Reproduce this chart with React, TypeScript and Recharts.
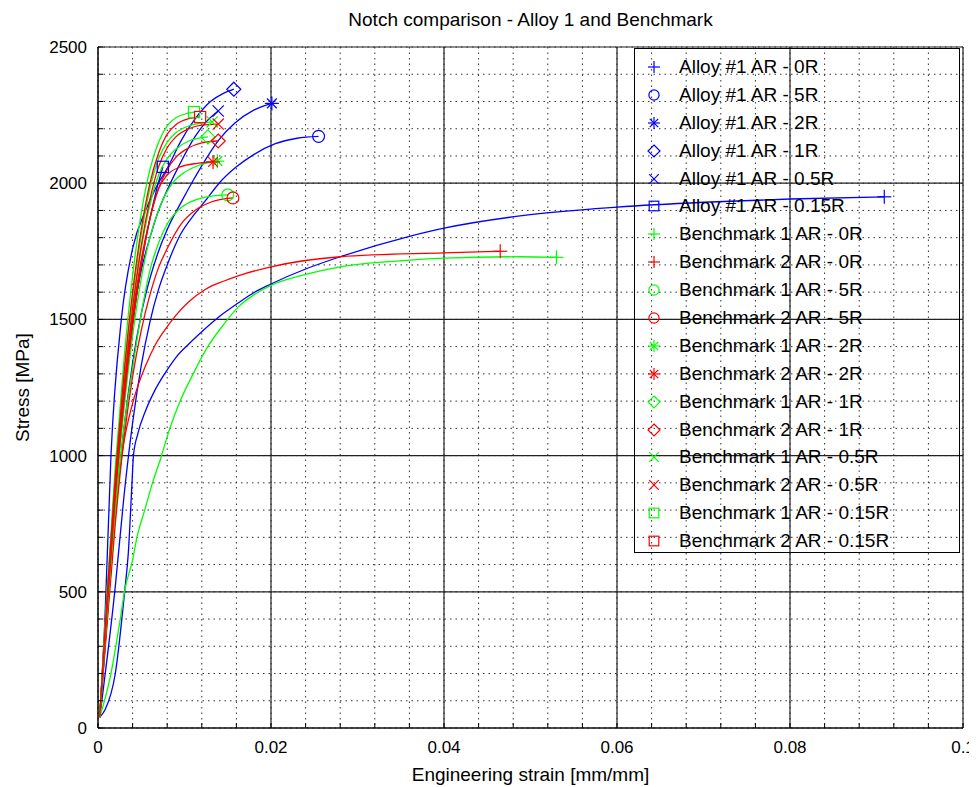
import React from 'react';
import { LineChart, Line, XAxis, YAxis, CartesianGrid, ReferenceLine } from 'recharts';

// strain [mm/mm], stress [MPa]
const alloy0R = [[0.0002, 40], [0.0008, 66], [0.002, 200], [0.0031, 507], [0.0035, 640], [0.0039, 880], [0.0041, 1000], [0.0046, 1080], [0.0055, 1165], [0.0065, 1235], [0.0077, 1300], [0.009, 1360], [0.0105, 1410], [0.012, 1455], [0.014, 1510], [0.0162, 1560], [0.018, 1598], [0.02, 1630], [0.024, 1685], [0.028, 1730], [0.036, 1805], [0.04, 1835], [0.0488, 1880], [0.06, 1912], [0.07, 1930], [0.08, 1942], [0.0909, 1950]];
const alloy5R = [[0.0002, 40], [0.002, 520], [0.003, 850], [0.004, 1120], [0.005, 1330], [0.006, 1490], [0.007, 1610], [0.008, 1700], [0.0095, 1810], [0.011, 1880], [0.0124, 1935], [0.014, 2000], [0.016, 2060], [0.018, 2105], [0.0205, 2145], [0.023, 2165], [0.0255, 2172]];
const alloy2R = [[0.0002, 40], [0.001, 380], [0.002, 780], [0.003, 1100], [0.004, 1340], [0.005, 1520], [0.006, 1650], [0.007, 1750], [0.008, 1830], [0.0097, 1935], [0.011, 2010], [0.0124, 2085], [0.014, 2160], [0.0158, 2220], [0.018, 2268], [0.0201, 2293]];
const alloy1R = [[0.0002, 40], [0.0008, 400], [0.0015, 1000], [0.0027, 1500], [0.004, 1760], [0.0055, 1900], [0.0068, 1990], [0.0081, 2060], [0.0095, 2150], [0.0112, 2235], [0.013, 2300], [0.0145, 2330], [0.0157, 2345]];
const alloy05R = [[0.0002, 40], [0.001, 450], [0.002, 900], [0.003, 1250], [0.004, 1500], [0.005, 1680], [0.006, 1800], [0.007, 1900], [0.008, 1975], [0.0093, 2060], [0.0112, 2170], [0.0125, 2225], [0.0139, 2265]];
const alloy015R = [[0.0002, 40], [0.001, 420], [0.002, 850], [0.003, 1200], [0.004, 1480], [0.005, 1700], [0.006, 1870], [0.0068, 1980], [0.0075, 2060]];
const bench1_0R = [[0.0002, 40], [0.0015, 200], [0.0025, 385], [0.0031, 507], [0.004, 617], [0.0045, 700], [0.0054, 800], [0.0063, 900], [0.0072, 985], [0.0082, 1090], [0.0095, 1200], [0.011, 1300], [0.0125, 1390], [0.0145, 1480], [0.0162, 1545], [0.018, 1590], [0.02, 1625], [0.024, 1665], [0.028, 1693], [0.034, 1713], [0.04, 1725], [0.0488, 1730], [0.053, 1728]];
const bench2_0R = [[0.0002, 40], [0.001, 400], [0.002, 800], [0.003, 1050], [0.0039, 1180], [0.0046, 1255], [0.0055, 1330], [0.0066, 1405], [0.0077, 1460], [0.009, 1515], [0.0105, 1565], [0.0124, 1610], [0.0145, 1640], [0.0162, 1660], [0.02, 1693], [0.028, 1730], [0.04, 1744], [0.0465, 1750]];
const bench1_5R = [[0.0002, 40], [0.001, 380], [0.002, 780], [0.003, 1100], [0.004, 1320], [0.005, 1520], [0.006, 1680], [0.007, 1780], [0.008, 1850], [0.0096, 1910], [0.0112, 1938], [0.013, 1952], [0.015, 1957]];
const bench2_5R = [[0.0002, 40], [0.001, 360], [0.002, 750], [0.003, 1060], [0.004, 1290], [0.005, 1460], [0.006, 1590], [0.007, 1690], [0.008, 1760], [0.0096, 1850], [0.0112, 1900], [0.013, 1930], [0.0156, 1946]];
const bench1_2R = [[0.0002, 40], [0.001, 400], [0.002, 820], [0.003, 1170], [0.004, 1440], [0.005, 1650], [0.006, 1800], [0.007, 1900], [0.0086, 2000], [0.01, 2040], [0.0116, 2065], [0.0138, 2081]];
const bench2_2R = [[0.0002, 40], [0.001, 420], [0.002, 850], [0.003, 1200], [0.004, 1480], [0.005, 1700], [0.006, 1870], [0.007, 1980], [0.008, 2030], [0.0095, 2060], [0.0115, 2073], [0.0133, 2078]];
const bench1_1R = [[0.0002, 40], [0.001, 450], [0.002, 900], [0.003, 1260], [0.004, 1540], [0.005, 1760], [0.006, 1920], [0.007, 2030], [0.008, 2090], [0.009, 2125], [0.0105, 2155], [0.0127, 2170]];
const bench2_1R = [[0.0002, 40], [0.001, 430], [0.002, 870], [0.003, 1230], [0.004, 1510], [0.005, 1720], [0.006, 1870], [0.007, 1980], [0.008, 2050], [0.009, 2095], [0.0105, 2130], [0.012, 2148], [0.0139, 2155]];
const bench1_05R = [[0.0002, 40], [0.001, 460], [0.002, 920], [0.003, 1290], [0.004, 1580], [0.005, 1810], [0.006, 1980], [0.007, 2090], [0.008, 2150], [0.009, 2185], [0.0105, 2210], [0.0132, 2225]];
const bench2_05R = [[0.0002, 40], [0.001, 440], [0.002, 890], [0.003, 1250], [0.004, 1540], [0.005, 1770], [0.006, 1940], [0.007, 2060], [0.008, 2130], [0.009, 2170], [0.0105, 2200], [0.012, 2213], [0.0139, 2217]];
const bench1_015R = [[0.0002, 40], [0.001, 480], [0.002, 960], [0.003, 1350], [0.004, 1660], [0.005, 1890], [0.006, 2050], [0.007, 2150], [0.008, 2210], [0.009, 2240], [0.0111, 2261]];
const bench2_015R = [[0.0002, 40], [0.001, 460], [0.002, 920], [0.003, 1300], [0.004, 1600], [0.005, 1830], [0.006, 2000], [0.007, 2110], [0.008, 2180], [0.009, 2215], [0.0105, 2237], [0.0118, 2243]];

const xTicks = [0, 0.004, 0.008, 0.012, 0.016, 0.02, 0.024, 0.028, 0.032, 0.036, 0.04, 0.044, 0.048, 0.052, 0.056, 0.06, 0.064, 0.068, 0.072, 0.076, 0.08, 0.084, 0.088, 0.092, 0.096, 0.1];
const xMajor = [0, 0.02, 0.04, 0.06, 0.08, 0.1];
const yTicks = [0, 100, 200, 300, 400, 500, 600, 700, 800, 900, 1000, 1100, 1200, 1300, 1400, 1500, 1600, 1700, 1800, 1900, 2000, 2100, 2200, 2300, 2400, 2500];
const yMajor = [0, 500, 1000, 1500, 2000, 2500];

const BLUE = '#0000ff';
const GREEN = '#00ff00';
const RED = '#ff0000';

const series = [
  { name: 'Alloy #1 AR - 0R', pts: alloy0R, color: BLUE, marker: 'plus' },
  { name: 'Alloy #1 AR - 5R', pts: alloy5R, color: BLUE, marker: 'circle' },
  { name: 'Alloy #1 AR - 2R', pts: alloy2R, color: BLUE, marker: 'star' },
  { name: 'Alloy #1 AR - 1R', pts: alloy1R, color: BLUE, marker: 'diamond' },
  { name: 'Alloy #1 AR - 0.5R', pts: alloy05R, color: BLUE, marker: 'cross' },
  { name: 'Alloy #1 AR - 0.15R', pts: alloy015R, color: BLUE, marker: 'square' },
  { name: 'Benchmark 1 AR - 0R', pts: bench1_0R, color: GREEN, marker: 'plus' },
  { name: 'Benchmark 2 AR - 0R', pts: bench2_0R, color: RED, marker: 'plus' },
  { name: 'Benchmark 1 AR - 5R', pts: bench1_5R, color: GREEN, marker: 'circle' },
  { name: 'Benchmark 2 AR - 5R', pts: bench2_5R, color: RED, marker: 'circle' },
  { name: 'Benchmark 1 AR - 2R', pts: bench1_2R, color: GREEN, marker: 'star' },
  { name: 'Benchmark 2 AR - 2R', pts: bench2_2R, color: RED, marker: 'star' },
  { name: 'Benchmark 1 AR - 1R', pts: bench1_1R, color: GREEN, marker: 'diamond' },
  { name: 'Benchmark 2 AR - 1R', pts: bench2_1R, color: RED, marker: 'diamond' },
  { name: 'Benchmark 1 AR - 0.5R', pts: bench1_05R, color: GREEN, marker: 'cross' },
  { name: 'Benchmark 2 AR - 0.5R', pts: bench2_05R, color: RED, marker: 'cross' },
  { name: 'Benchmark 1 AR - 0.15R', pts: bench1_015R, color: GREEN, marker: 'square' },
  { name: 'Benchmark 2 AR - 0.15R', pts: bench2_015R, color: RED, marker: 'square' },
];

const FONT = '"Liberation Sans", Arial, Helvetica, sans-serif';

const Marker = ({ type, cx, cy, color, r }: { type: string; cx: number; cy: number; color: string; r: number }) => {
  const p = { stroke: color, strokeWidth: 1.2, fill: 'none' };
  switch (type) {
    case 'plus':
      return (
        <g {...p}>
          <line x1={cx - r} y1={cy} x2={cx + r} y2={cy} />
          <line x1={cx} y1={cy - r} x2={cx} y2={cy + r} />
        </g>
      );
    case 'circle':
      return <circle cx={cx} cy={cy} r={r * 0.85} {...p} />;
    case 'star':
      return (
        <g {...p}>
          <line x1={cx - r} y1={cy} x2={cx + r} y2={cy} />
          <line x1={cx} y1={cy - r} x2={cx} y2={cy + r} />
          <line x1={cx - r * 0.7} y1={cy - r * 0.7} x2={cx + r * 0.7} y2={cy + r * 0.7} />
          <line x1={cx - r * 0.7} y1={cy + r * 0.7} x2={cx + r * 0.7} y2={cy - r * 0.7} />
        </g>
      );
    case 'diamond':
      return <polygon points={`${cx},${cy - r} ${cx + r},${cy} ${cx},${cy + r} ${cx - r},${cy}`} {...p} />;
    case 'cross':
      return (
        <g {...p}>
          <line x1={cx - r * 0.8} y1={cy - r * 0.8} x2={cx + r * 0.8} y2={cy + r * 0.8} />
          <line x1={cx - r * 0.8} y1={cy + r * 0.8} x2={cx + r * 0.8} y2={cy - r * 0.8} />
        </g>
      );
    default:
      return <rect x={cx - r * 0.8} y={cy - r * 0.8} width={r * 1.6} height={r * 1.6} {...p} />;
  }
};

const isMajor = (v: number, step: number) => Math.abs(v / step - Math.round(v / step)) < 1e-6;

export default function App() {
  return (
    <div style={{ position: 'relative', width: 969, height: 779, fontFamily: FONT }}>
      <style>{'html, body { overflow: hidden; }'}</style>
      <div
        style={{
          position: 'absolute', left: 90, top: 0, width: 865, textAlign: 'center',
          fontSize: 19, lineHeight: '24px', color: '#000',
        }}
      >
        Notch comparison - Alloy 1 and Benchmark
      </div>
      <LineChart width={969} height={779} margin={{ top: 39, right: 14, left: 0, bottom: 0 }}>
        <CartesianGrid stroke="#333" strokeDasharray="1.5 4" />
        <XAxis
          type="number"
          dataKey="x"
          domain={[0, 0.1]}
          ticks={xTicks}
          interval={0}
          height={59}
          stroke="#000"
          tickSize={-5}
          tickMargin={18}
          tick={{ fill: '#000', fontSize: 17, fontFamily: FONT }}
          tickFormatter={(v: number) => (isMajor(v, 0.02) ? String(Number(v.toFixed(3))) : '')}
          allowDuplicatedCategory={false}
          label={{ value: 'Engineering strain [mm/mm]', position: 'insideBottom', offset: 6, fill: '#000', fontSize: 19 }}
        />
        <YAxis
          type="number"
          domain={[0, 2500]}
          ticks={yTicks}
          interval={0}
          width={90}
          stroke="#000"
          tickSize={-5}
          tickMargin={16}
          tick={{ fill: '#000', fontSize: 17, fontFamily: FONT }}
          tickFormatter={(v: number) => (isMajor(v, 500) ? String(v) : '')}
          label={{ value: 'Stress [MPa]', angle: -90, position: 'insideLeft', offset: 14, fill: '#000', fontSize: 19, style: { textAnchor: 'middle' } }}
        />
        {xMajor.map((v) => (
          <ReferenceLine key={`vx${v}`} x={v} stroke="#222" strokeWidth={1.2} />
        ))}
        {yMajor.map((v) => (
          <ReferenceLine key={`hy${v}`} y={v} stroke="#222" strokeWidth={1.2} />
        ))}
        {series.map((s) => {
          const data = s.pts.map(([x, y]) => ({ x, y }));
          const last = data.length - 1;
          return (
            <Line
              key={s.name}
              name={s.name}
              data={data}
              dataKey="y"
              type="monotone"
              stroke={s.color}
              strokeWidth={1.3}
              isAnimationActive={false}
              activeDot={false}
              dot={(props: any) =>
                props.index === last ? (
                  <Marker key={`m${props.index}`} type={s.marker} cx={props.cx} cy={props.cy} color={s.color} r={7} />
                ) : (
                  <g key={`m${props.index}`} />
                )
              }
            />
          );
        })}
      </LineChart>
      <div
        style={{
          position: 'absolute', left: 626, top: 40, width: 326, height: 505,
          border: '1px solid #000', boxSizing: 'border-box', paddingTop: 4,
        }}
      >
        {series.map((s) => (
          <div key={s.name} style={{ height: 27.9, display: 'flex', alignItems: 'center' }}>
            <svg width={44} height={20} style={{ flex: 'none' }}>
              <Marker type={s.marker} cx={19} cy={10} color={s.color} r={6} />
            </svg>
            <span style={{ fontSize: 19, color: '#000', whiteSpace: 'nowrap' }}>{s.name}</span>
          </div>
        ))}
      </div>
    </div>
  );
}
